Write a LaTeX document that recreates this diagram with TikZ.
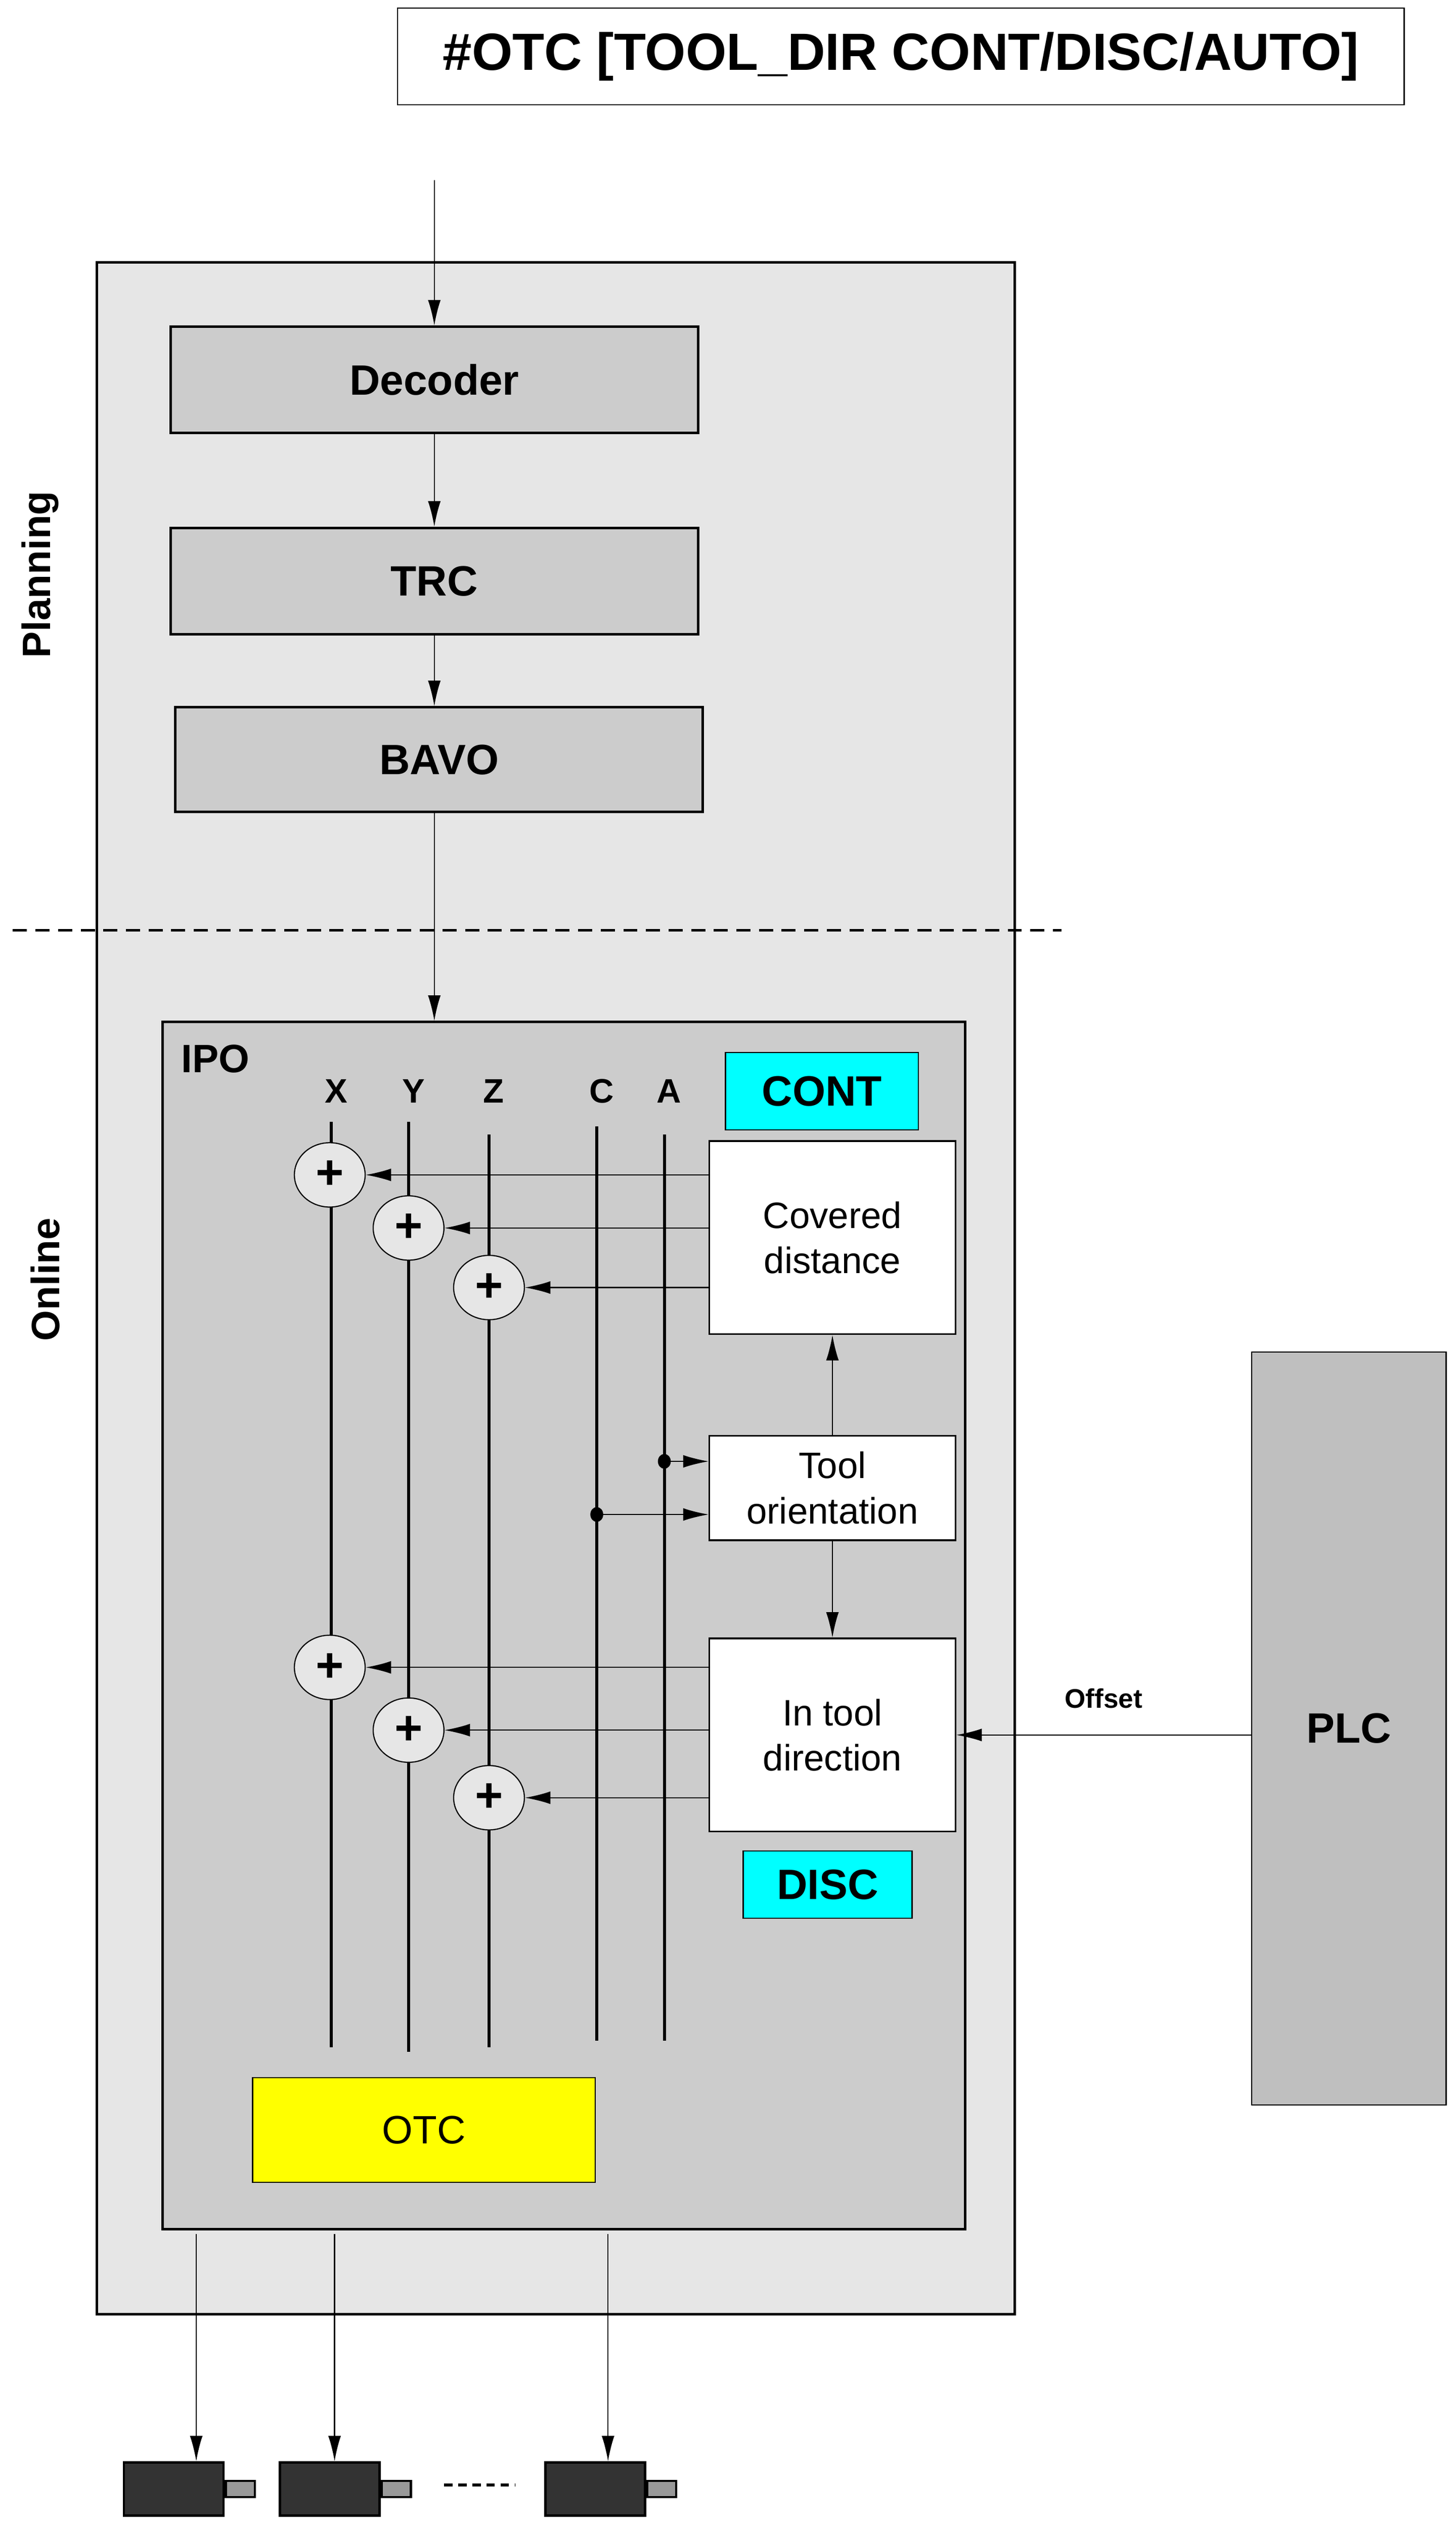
\documentclass[tikz,border=0pt]{standalone}
\usepackage{fontspec}
\setmainfont{Liberation Sans}
\usetikzlibrary{arrows.meta, shapes.geometric, calc}
\definecolor{outergray}{HTML}{E6E6E6}
\definecolor{blockgray}{HTML}{CCCCCC}
\definecolor{plcgray}{HTML}{BFBFBF}
\definecolor{motorgray}{HTML}{333333}
\definecolor{tagcyan}{HTML}{00FFFF}
\definecolor{otcyellow}{HTML}{FFFF00}
\tikzset{
    block/.style={draw, line width=0.9pt, fill=blockgray, inner sep=0pt},
    whitebox/.style={draw, line width=0.6pt, fill=white, inner sep=0pt, align=center, font=\fontsize{13}{16}\selectfont},
    tag/.style={draw, line width=0.4pt, fill=tagcyan, inner sep=0pt, font=\fontsize{15}{17}\selectfont\bfseries},
    sum/.style={ellipse, draw, line width=0.4pt, fill=outergray, minimum width=0.88cm, minimum height=0.8cm, inner sep=0pt, font=\fontsize{17}{17}\selectfont\bfseries},
    axis/.style={line width=1.1pt},
    flow/.style={line width=0.4pt, -{Latex[length=9pt, width=4.5pt]}},
    axlabel/.style={font=\fontsize{12}{12}\selectfont\bfseries},
    motor/.style={draw, line width=0.8pt, fill=motorgray, minimum width=1.24cm, minimum height=0.66cm, inner sep=0pt},
    shaft/.style={draw, line width=0.8pt, fill=gray!80, minimum width=0.36cm, minimum height=0.2cm, inner sep=0pt},
}
\begin{document}
\begin{tikzpicture}[x=0.02cm, y=-0.02cm]
    \useasboundingbox (0,0) rectangle (905,1572);

    % title and planning blocks
    \node[draw, line width=0.4pt, minimum width=12.52cm, minimum height=1.2cm, font=\fontsize{18.5}{20}\selectfont\bfseries] (title) at (560,35) {\#OTC [TOOL\_DIR CONT/DISC/AUTO]};
    \node[block, fill=outergray, minimum width=11.42cm, minimum height=25.5cm] (ncu) at (345.5,800.5) {};
    \node[block, minimum width=6.56cm, minimum height=1.32cm, font=\fontsize{15}{17}\selectfont\bfseries] (dec) at (270,236) {Decoder};
    \node[block, minimum width=6.56cm, minimum height=1.32cm, font=\fontsize{15}{17}\selectfont\bfseries] (trc) at (270,361) {TRC};
    \node[block, minimum width=6.56cm, minimum height=1.3cm, font=\fontsize{15}{17}\selectfont\bfseries] (bavo) at (273,472) {BAVO};
    \node[rotate=90, font=\fontsize{14}{15}\selectfont\bfseries] (plan) at (25,357) {Planning};
    \node[rotate=90, font=\fontsize{14}{15}\selectfont\bfseries] (onl) at (28,795) {Online};
    \coordinate (tin) at (270,112);
    \coordinate (dl) at (8,578);
    \coordinate (dr) at (660,578);
    \draw[line width=1pt, dash pattern=on 5pt off 3pt] (dl) -- (dr);

    % ipo
    \node[block, minimum width=9.98cm, minimum height=15cm] (ipo) at (350.5,1010) {};
    \node[font=\fontsize{14}{16}\selectfont\bfseries] (ipol) at (134,658) {IPO};
    \draw[flow] (tin) -- (dec);
    \draw[flow] (dec) -- (trc);
    \draw[flow] (trc.south) -- ($(bavo.north)+(-3,0)$);
    \draw[flow] ($(bavo.south)+(-3,0)$) -- ($(ipo.north)+(-80.5,0)$);

    \foreach \n/\x/\t/\b in {X/206/697/1272, Y/254/697/1275, Z/304/705/1272, C/371/700/1268, A/413/705/1268} {
        \node[axlabel] (l\n) at (\x+3,678) {\n};
        \coordinate (t\n) at (\x,\t);
        \coordinate (b\n) at (\x,\b);
        \draw[axis] (t\n) -- (b\n);
    }

    \node[tag, minimum width=2.4cm, minimum height=0.96cm] (cont) at (511,678) {CONT};
    \node[whitebox, minimum width=3.06cm, minimum height=2.4cm] (cov) at (517.5,769) {Covered\\distance};
    \node[whitebox, minimum width=3.06cm, minimum height=1.3cm] (orient) at (517.5,924.5) {Tool\\orientation};
    \node[whitebox, minimum width=3.06cm, minimum height=2.4cm] (dir) at (517.5,1078) {In tool\\direction};
    \node[tag, minimum width=2.1cm, minimum height=0.84cm] (disc) at (514.5,1171) {DISC};

    % adders
    \foreach \n/\x/\ya/\yb in {X/205/730/1036, Y/254/763/1075, Z/304/800/1117} {
        \node[sum] (s\n) at (\x,\ya) {+};
        \node[sum] (d\n) at (\x,\yb) {+};
        \draw[flow] (cov.west |- s\n) -- (s\n);
        \draw[flow] (dir.west |- d\n) -- (d\n);
    }

    \draw[flow] (orient) -- (cov);
    \draw[flow] (orient) -- (dir);
    \coordinate (pa) at (413,908);
    \coordinate (pc) at (371,941);
    \fill (pa) ellipse (4 and 4.6);
    \fill (pc) ellipse (4 and 4.6);
    \draw[flow] (pa) -- (orient.west |- pa);
    \draw[flow] (pc) -- (orient.west |- pc);

    \node[draw, line width=0.4pt, fill=otcyellow, minimum width=4.26cm, minimum height=1.3cm, inner sep=0pt, font=\fontsize{14}{16}\selectfont] (otc) at (263.5,1323.5) {OTC};

    % plc
    \node[draw, line width=0.4pt, fill=plcgray, minimum width=2.42cm, minimum height=9.36cm, inner sep=0pt, font=\fontsize{15}{17}\selectfont\bfseries] (plc) at (838.5,1074) {PLC};
    \draw[flow] (plc.west |- dir) -- node[above=6pt, font=\fontsize{9.5}{11}\selectfont\bfseries] {Offset} (dir);

    % drives
    \foreach \i/\x in {1/108, 2/205, 3/370} {
        \node[motor] (m\i) at (\x,1546.5) {};
        \node[shaft, anchor=west] (sh\i) at (m\i.east) {};
    }
    \foreach \i/\x in {1/122, 2/208, 3/378} {
        \coordinate (o\i) at (\x,1388);
        \draw[flow] (o\i) -- (o\i |- m\i.north);
    }
    \coordinate (e1) at (276,1544);
    \coordinate (e2) at (320,1544);
    \draw[line width=1.2pt, dash pattern=on 3pt off 2pt] (e1) -- (e2);
\end{tikzpicture}
\end{document}
